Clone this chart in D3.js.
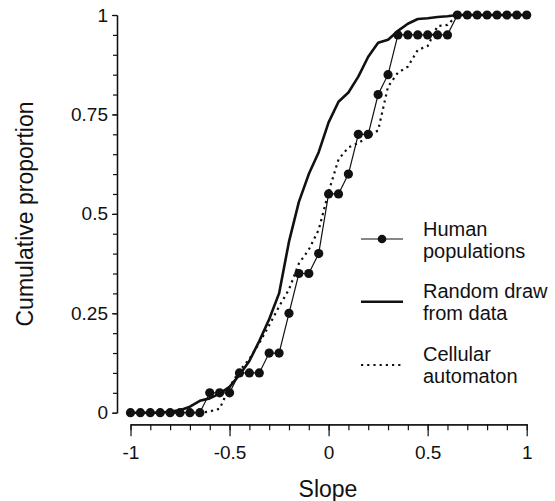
<!DOCTYPE html>
<html>
<head>
<meta charset="utf-8">
<script src="https://cdn.jsdelivr.net/npm/d3@7"></script>
<style>
    body { margin: 0; background: #fff; }
    text { font-family: "Liberation Sans", Arial, Helvetica, sans-serif; fill: #111; }
</style>
</head>
<body>
<div id="chart"></div>
<script>
// slope bins (step 0.05)
const slopes = [-1, -0.95, -0.9, -0.85, -0.8, -0.75, -0.7, -0.65, -0.6, -0.55,
    -0.5, -0.45, -0.4, -0.35, -0.3, -0.25, -0.2, -0.15, -0.1, -0.05,
    0, 0.05, 0.1, 0.15, 0.2, 0.25, 0.3, 0.35, 0.4, 0.45,
    0.5, 0.55, 0.6, 0.65, 0.7, 0.75, 0.8, 0.85, 0.9, 0.95, 1];

const human = [0, 0, 0, 0, 0, 0, 0, 0, 0.05, 0.05,
    0.05, 0.1, 0.1, 0.1, 0.15, 0.15, 0.25, 0.35, 0.35, 0.4,
    0.55, 0.55, 0.6, 0.7, 0.7, 0.8, 0.85, 0.95, 0.95, 0.95,
    0.95, 0.95, 0.95, 1, 1, 1, 1, 1, 1, 1, 1];

const randomDraw = [0, 0, 0, 0, 0.003, 0.006, 0.015, 0.03, 0.036, 0.048,
    0.065, 0.095, 0.13, 0.18, 0.235, 0.3, 0.43, 0.53, 0.6, 0.655,
    0.73, 0.782, 0.805, 0.845, 0.895, 0.93, 0.938, 0.96, 0.978, 0.99,
    0.992, 0.995, 0.997, 1, 1, 1, 1, 1, 1, 1, 1];

const cellular = [0, 0, 0, 0, 0, 0, 0, 0, 0.003, 0.01,
    0.065, 0.105, 0.135, 0.175, 0.22, 0.267, 0.31, 0.375, 0.41, 0.46,
    0.555, 0.637, 0.667, 0.678, 0.694, 0.71, 0.82, 0.855, 0.87, 0.912,
    0.922, 0.972, 0.975, 1, 1, 1, 1, 1, 1, 1, 1];

const xTicks = [-1, -0.5, 0, 0.5, 1];
const xTickLabels = ["-1", "-0.5", "0", "0.5", "1"];
const yTicks = [0, 0.25, 0.5, 0.75, 1];
const yTickLabels = ["0", "0.25", "0.5", "0.75", "1"];
const legendLabels = [["Human", "populations"], ["Random draw", "from data"], ["Cellular", "automaton"]];

const W = 555, H = 501;
const svg = d3.select("#chart").append("svg")
    .attr("width", W)
    .attr("height", H);

const x = d3.scaleLinear().domain([-1, 1]).range([130.5, 526.7]);
const y = d3.scaleLinear().domain([0, 1]).range([412.7, 15]);

const ink = "#111";

// x axis: minor ticks every 0.1, labelled major ticks
const xAxisG = svg.append("g").attr("transform", "translate(0, 424.3)");
xAxisG.append("g")
    .call(d3.axisBottom(x).tickValues(d3.range(-1, 1.0001, 0.1)).tickSize(6).tickSizeOuter(0).tickFormat(""));
xAxisG.append("g")
    .call(d3.axisBottom(x).tickValues(xTicks).tickSize(12).tickSizeOuter(0).tickPadding(9)
        .tickFormat((d, i) => xTickLabels[i]));

// y axis: minor ticks every 0.05
const yAxisG = svg.append("g").attr("transform", "translate(117, 0)");
yAxisG.append("g")
    .call(d3.axisLeft(y).tickValues(d3.range(0, 1.0001, 0.05)).tickSize(4).tickSizeOuter(0).tickFormat(""));
yAxisG.append("g")
    .call(d3.axisLeft(y).tickValues(yTicks).tickSize(5).tickSizeOuter(0).tickPadding(4)
        .tickFormat((d, i) => yTickLabels[i]));

svg.selectAll(".domain").attr("stroke", ink).attr("stroke-width", 1.3);
svg.selectAll(".tick line").attr("stroke", ink).attr("stroke-width", 1.2);
svg.selectAll(".tick text")
    .attr("font-family", "Liberation Sans, Arial, sans-serif")
    .attr("font-size", 19)
    .attr("fill", ink);

// axis titles
svg.append("text")
    .attr("x", 328)
    .attr("y", 497)
    .attr("text-anchor", "middle")
    .attr("font-size", 23)
    .text("Slope");

svg.append("text")
    .attr("transform", "translate(33, 214) rotate(-90)")
    .attr("text-anchor", "middle")
    .attr("font-size", 23)
    .text("Cumulative proportion");

const line = d3.line()
    .x((d, i) => x(slopes[i]))
    .y(d => y(d));

// random draw (thick solid)
svg.append("path")
    .datum(randomDraw)
    .attr("fill", "none")
    .attr("stroke", ink)
    .attr("stroke-width", 2.6)
    .attr("stroke-linejoin", "round")
    .attr("d", line);

// cellular automaton (dotted)
svg.append("path")
    .datum(cellular)
    .attr("fill", "none")
    .attr("stroke", ink)
    .attr("stroke-width", 2.2)
    .attr("stroke-dasharray", "2.2,4")
    .attr("d", line);

// human populations (thin line + dots)
svg.append("path")
    .datum(human)
    .attr("fill", "none")
    .attr("stroke", ink)
    .attr("stroke-width", 1.2)
    .attr("d", line);

svg.append("g")
    .selectAll("circle")
    .data(human)
    .join("circle")
    .attr("cx", (d, i) => x(slopes[i]))
    .attr("cy", d => y(d))
    .attr("r", 4.6)
    .attr("fill", ink);

// legend
const legend = svg.append("g").attr("transform", "translate(361, 0)");
const legendRows = [239, 301.7, 365];
const textTop = [235.5, 297.5, 360.5];

legend.append("line").attr("x1", 0).attr("x2", 42).attr("y1", legendRows[0]).attr("y2", legendRows[0])
    .attr("stroke", ink).attr("stroke-width", 1.2);
legend.append("circle").attr("cx", 21).attr("cy", legendRows[0]).attr("r", 4.3).attr("fill", ink);

legend.append("line").attr("x1", 0).attr("x2", 42).attr("y1", legendRows[1]).attr("y2", legendRows[1])
    .attr("stroke", ink).attr("stroke-width", 2.6);

legend.append("line").attr("x1", 0).attr("x2", 42).attr("y1", legendRows[2]).attr("y2", legendRows[2])
    .attr("stroke", ink).attr("stroke-width", 2.2).attr("stroke-dasharray", "2.2,4");

legendLabels.forEach((lines, i) => {
    const t = legend.append("text")
        .attr("x", 62)
        .attr("y", textTop[i])
        .attr("font-size", 20);
    lines.forEach((s, j) => {
        t.append("tspan").attr("x", 62).attr("dy", j === 0 ? 0 : 22.5).text(s);
    });
});
</script>
</body>
</html>
